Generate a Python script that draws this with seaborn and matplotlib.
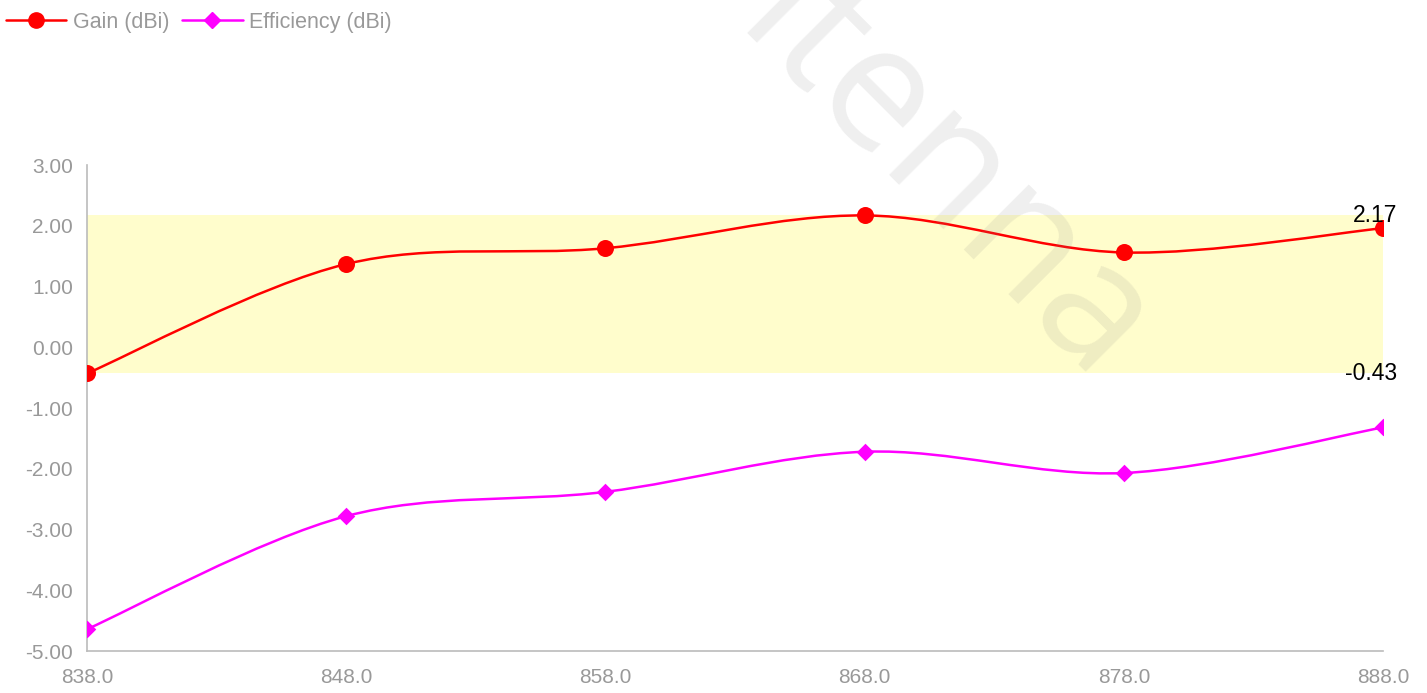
import numpy as np
import pandas as pd
import matplotlib
matplotlib.use("Agg")
import matplotlib.pyplot as plt
import seaborn as sns
from matplotlib.path import Path
from matplotlib.patches import PathPatch
from matplotlib.lines import Line2D

# values
freqs = [838.0, 848.0, 858.0, 868.0, 878.0, 888.0]
gain = [-0.43, 1.37, 1.63, 2.17, 1.56, 1.96]
efficiency = [-4.64, -2.78, -2.38, -1.72, -2.07, -1.32]
y_ticks = [3.0, 2.0, 1.0, 0.0, -1.0, -2.0, -3.0, -4.0, -5.0]
series_names = ["Gain (dBi)", "Efficiency (dBi)"]
band_low, band_high = min(gain), max(gain)

GRAY_TXT = "#999999"
SPINE = "#bbbbbb"
RED = "#ff0000"
MAGENTA = "#ff00ff"


def smooth_path(xs, ys):
    """Catmull-Rom style cubic bezier through the points (drawing only)."""
    pts = np.column_stack([xs, ys]).astype(float)
    n = len(pts)
    verts = [pts[0]]
    codes = [Path.MOVETO]
    for i in range(n - 1):
        p0 = pts[max(i - 1, 0)]
        p1 = pts[i]
        p2 = pts[i + 1]
        p3 = pts[min(i + 2, n - 1)]
        verts += [p1 + (p2 - p0) / 6.0, p2 - (p3 - p1) / 6.0, p2]
        codes += [Path.CURVE4] * 3
    return Path(verts, codes)


sns.set_style("white")
plt.rcParams["font.family"] = ["Liberation Sans", "DejaVu Sans"]

fig = plt.figure(figsize=(14.27, 6.93), dpi=100)
ax = fig.add_axes([0.061, 0.0606, 0.9082, 0.7013])

ax.axhspan(band_low, band_high, color="#fffdcc", zorder=0, lw=0)

df = pd.DataFrame({"freq": freqs, "gain": gain, "eff": efficiency})

for col, color in [("gain", RED), ("eff", MAGENTA)]:
    ax.add_patch(PathPatch(smooth_path(df["freq"], df[col]), facecolor="none",
                           edgecolor=color, lw=1.8, zorder=2))

sns.scatterplot(data=df, x="freq", y="gain", ax=ax, marker="o", s=150,
                color=RED, edgecolor=RED, linewidth=0, zorder=3)
sns.scatterplot(data=df, x="freq", y="eff", ax=ax, marker="D", s=80,
                color=MAGENTA, edgecolor=MAGENTA, linewidth=0, zorder=3)

ax.set_xlim(freqs[0], freqs[-1])
ax.set_ylim(y_ticks[-1], y_ticks[0])
ax.set_xticks(freqs)
ax.set_xticklabels([f"{f:.1f}" for f in freqs])
ax.set_yticks(y_ticks)
ax.set_yticklabels([f"{v:.2f}" for v in y_ticks])
ax.set_xlabel("")
ax.set_ylabel("")

for side in ["top", "right"]:
    ax.spines[side].set_visible(False)
for side in ["left", "bottom"]:
    ax.spines[side].set_color(SPINE)
    ax.spines[side].set_linewidth(1.2)

ax.tick_params(axis="both", direction="in", length=6, width=1.2, color=SPINE,
               labelcolor=GRAY_TXT, labelsize=15)
ax.tick_params(axis="y", pad=10)
ax.tick_params(axis="x", pad=12)

# band edge labels
for val in (band_high, band_low):
    ax.annotate(f"{val:.2f}", xy=(freqs[-1], val), xytext=(10, 0),
                textcoords="offset points", ha="right", va="center",
                fontsize=16.5, color="black", annotation_clip=False)

handles = [
    Line2D([], [], color=RED, lw=1.8, marker="o", markersize=11),
    Line2D([], [], color=MAGENTA, lw=1.8, marker="D", markersize=8.5),
]
leg = fig.legend(handles, series_names, loc="upper left",
                 bbox_to_anchor=(-0.004, 1.0), ncol=2, frameon=False,
                 fontsize=15.5, handlelength=2.8, handletextpad=0.3,
                 columnspacing=0.6, borderaxespad=0.15)
for t in leg.get_texts():
    t.set_color(GRAY_TXT)

# faint watermark
fig.text(0.621, 0.842, "Antenna", rotation=-45, rotation_mode="anchor",
         ha="center", va="center", fontsize=124, color="gray", alpha=0.13,
         family=["Open Sans", "DejaVu Sans"])

fig.savefig("out.png", dpi=100)
